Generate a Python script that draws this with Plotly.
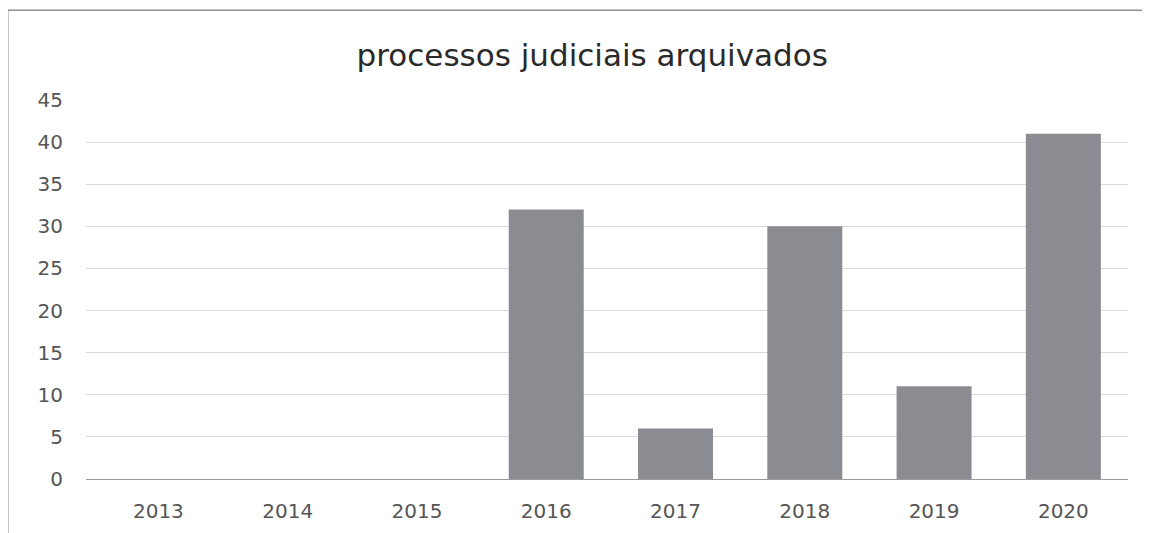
import plotly.graph_objects as go

anos = ["2013", "2014", "2015", "2016", "2017", "2018", "2019", "2020"]
processos = [0, 0, 0, 32, 6, 30, 11, 41]
y_ticks = [0, 5, 10, 15, 20, 25, 30, 35, 40, 45]

fig = go.Figure()
fig.add_trace(go.Bar(
    x=anos, y=processos,
    marker=dict(color="#8b8b92", line=dict(width=0)),
    width=0.58,
))

fig.update_layout(
    width=1150, height=533,
    margin=dict(l=78, r=30, t=92, b=62),
    paper_bgcolor="white", plot_bgcolor="white",
    title=dict(text="processos judiciais arquivados", x=0.508, xanchor="center",
               y=0.912, yanchor="middle",
               font=dict(family="DejaVu Sans", size=31, color="#2a2a2a")),
    showlegend=False,
    font=dict(family="DejaVu Sans", color="#595959"),
    xaxis=dict(type="category", range=[-0.56, 7.5], showgrid=False, showline=True,
               linecolor="#9a9a9a", linewidth=1, ticks="", ticklabelstandoff=14,
               tickfont=dict(size=20, color="#555555")),
    yaxis=dict(range=[0, 45], tickvals=y_ticks, showgrid=True, gridcolor="#dadada",
               gridwidth=1, zeroline=False, showline=False,
               ticks="", ticklabelstandoff=22, tickfont=dict(size=20, color="#555555")),
)

fig.add_shape(type="line", xref="paper", yref="paper", x0=-0.075, x1=-0.075, y0=-0.15, y1=1.237,
              line=dict(color="#a0a0a0", width=1.5))
fig.add_shape(type="line", xref="paper", yref="paper", x0=-0.075, x1=1.03, y0=1.237, y1=1.237,
              line=dict(color="#909090", width=1.5))

fig.write_html("out.html")
